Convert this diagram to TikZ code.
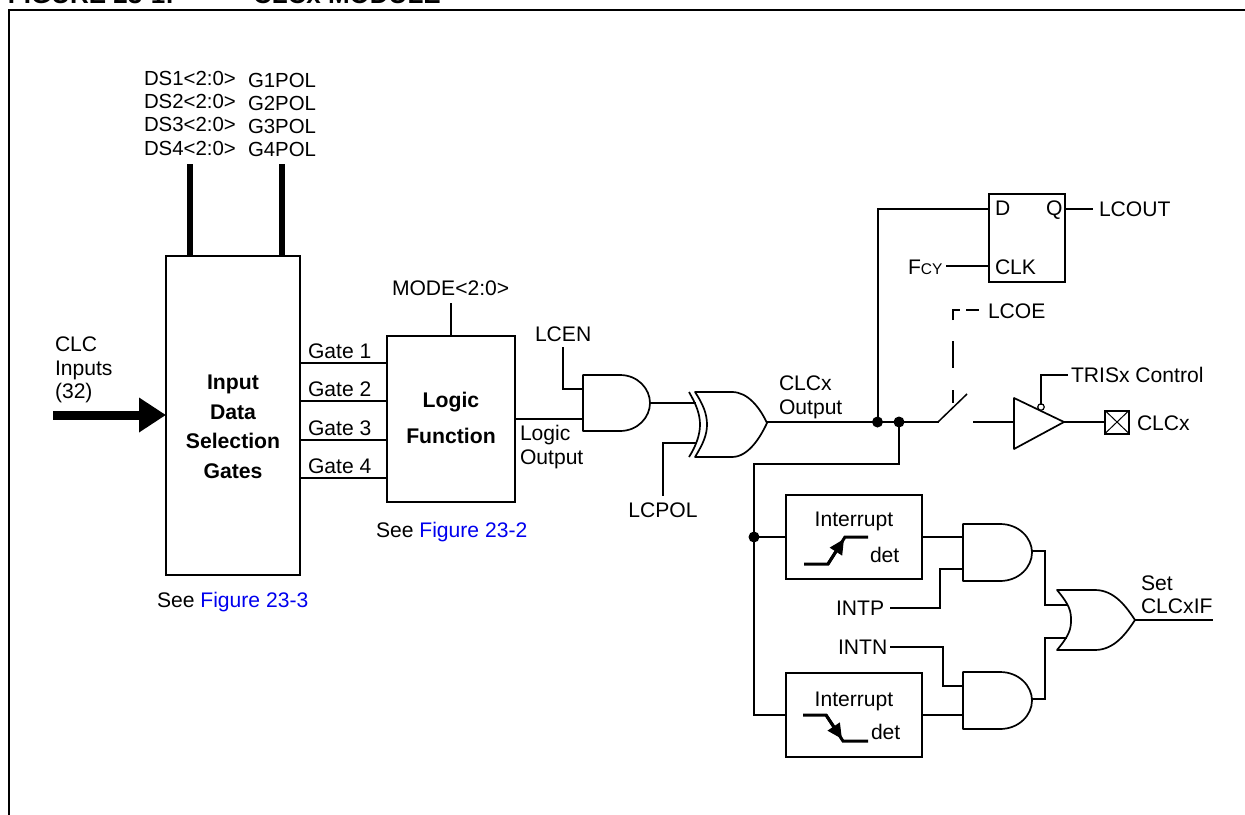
\documentclass[tikz,border=0pt]{standalone}
\usepackage{fontspec}
\setmainfont{Liberation Sans}
\usetikzlibrary{arrows.meta}
\definecolor{linkblue}{RGB}{0,0,238}
\tikzset{
  x=1pt,y=-1pt,
  wire/.style={line width=2pt,line cap=rect,line join=miter},
  gateline/.style={line width=1.7pt,line join=round},
  bus/.style={line width=6pt},
  txt/.style={anchor=base west,inner sep=0pt,outer sep=0pt,font=\fontsize{21.1}{24}\selectfont},
  toptxt/.style={txt,font=\fontsize{20.4}{24}\selectfont},
  ctxt/.style={txt,anchor=base},
  btxt/.style={ctxt,font=\fontsize{21.2}{24}\selectfont\bfseries},
  ttxt/.style={txt,font=\fontsize{26}{30}\selectfont\bfseries},
  boxn/.style={draw,line width=2pt,inner sep=0pt,outer sep=0pt},
  dot/.style={circle,fill=black,inner sep=0pt,outer sep=0pt,minimum size=11pt},
  bubble/.style={circle,draw,fill=white,line width=1.2pt,inner sep=0pt,outer sep=0pt,minimum size=6.5pt},
  edgeline/.style={line width=3pt},
}
% box centre from extents
\newcommand{\bx}[5]{\node[boxn,minimum width=#4-#2,minimum height=#5-#3] (#1) at ({(#2+#4)/2},{(#3+#5)/2}) {};}
% AND gate: name, left x, top y, bottom y, flat x, tip x
\newcommand{\andg}[6]{%
  \draw[gateline] (#2,#3) -- (#5,#3) .. controls ({#5+(#6-#5)*0.6},#3) and (#6,{#3+(#4-#3)*0.25}) .. (#6,{(#3+#4)/2})
   .. controls (#6,{#3+(#4-#3)*0.75}) and ({#5+(#6-#5)*0.6},#4) .. (#5,#4) -- (#2,#4) -- cycle;
  \coordinate (#1o) at (#6,{(#3+#4)/2});}
% OR body: name, left tip x, top, bottom, mid x, flat x, tip x
\newcommand{\org}[7]{%
  \draw[gateline] (#2,#3) -- (#6,#3) .. controls ({#6+(#7-#6)*0.5},#3) and ({#6+(#7-#6)*0.8},{#3+(#4-#3)*0.3}) .. (#7,{(#3+#4)/2})
   .. controls ({#6+(#7-#6)*0.8},{#3+(#4-#3)*0.7}) and ({#6+(#7-#6)*0.5},#4) .. (#6,#4) -- (#2,#4)
   .. controls ({#5-(#5-#2)*0.1},{#3+(#4-#3)*0.75}) and (#5,{#3+(#4-#3)*0.65}) .. (#5,{(#3+#4)/2})
   .. controls (#5,{#3+(#4-#3)*0.35}) and ({#5-(#5-#2)*0.1},{#3+(#4-#3)*0.25}) .. (#2,#3) -- cycle;
  \coordinate (#1o) at (#7,{(#3+#4)/2});}
\begin{document}
\begin{tikzpicture}
\useasboundingbox (0,0) rectangle (1245,814);
\clip (0,0) rectangle (1245,814);
% title and frame
\node[ttxt] (title1) at (8,3) {FIGURE 23-1:};
\node[ttxt] (title2) at (253,3) {CLCx MODULE};
\draw[line width=2pt] (9,815) -- (9,10) -- (1246,10);
% top labels
\node[toptxt] (ds1) at (144,85) {DS1<2:0>};
\node[toptxt] (ds2) at (144,108) {DS2<2:0>};
\node[toptxt] (ds3) at (144,131) {DS3<2:0>};
\node[toptxt] (ds4) at (144,155) {DS4<2:0>};
\node[toptxt] (g1) at (248,87) {G1POL};
\node[toptxt] (g2) at (248,110) {G2POL};
\node[toptxt] (g3) at (248,133) {G3POL};
\node[toptxt] (g4) at (248,156) {G4POL};
% boxes
\bx{sel}{166}{256}{300}{575}
\bx{logic}{387}{336}{515}{502}
\bx{ff}{989}{194}{1065}{282}
\bx{intp}{786}{495}{922}{579}
\bx{intn}{786}{673}{922}{757}
\node[btxt] (t1) at (233,389) {Input};
\node[btxt] (t2) at (233,419) {Data};
\node[btxt] (t3) at (233,448) {Selection};
\node[btxt] (t4) at (233,478) {Gates};
\node[btxt] (t5) at (451,407) {Logic};
\node[btxt] (t6) at (451,443) {Function};
% buses
\coordinate (b1) at (190,164); \coordinate (b2) at (282,164);
\draw[bus] (b1) -- (b1 |- sel.north);
\draw[bus] (b2) -- (b2 |- sel.north);
% input arrow
\node[txt] (c1) at (55,351) {CLC};
\node[txt] (c2) at (55,375) {Inputs};
\node[txt] (c3) at (55,398) {(32)};
\coordinate (in) at (53,415);
\draw[line width=9pt,-{Triangle[length=27pt,width=33pt]}] (in) -- (in -| sel.west);
% gates lines
\foreach \y/\n in {363/1,401/2,440/3,478/4}{
  \coordinate (gs\n) at (sel.east |- 0,\y);
  \draw[wire] (gs\n) -- (gs\n -| logic.west);
  \node[txt] (gl\n) at (308,\y-5) {Gate \n};
}
% mode
\node[txt] (mode) at (392,295) {MODE<2:0>};
\coordinate (modeb) at (451,304);
\draw[wire] (modeb) -- (modeb |- logic.north);
% and + xor
\andg{am}{583}{375}{431}{620}{650}
\node[txt] (lcen) at (535,341) {LCEN};
\coordinate (lcenb) at (563,348);
\draw[wire] (lcenb) |- (583,389);
\draw[wire] (logic.east |- 0,419) -- (583,419);
\node[txt] (lo1) at (520,440) {Logic};
\node[txt] (lo2) at (520,464) {Output};
\draw[gateline] (695,392) -- (732,392) .. controls (748,392) and (760,408) .. (767,423)
  .. controls (760,438) and (748,457) .. (732,457) -- (695,457)
  .. controls (703,444) and (707,435) .. (707,424.5) .. controls (707,414) and (703,404) .. (695,392) -- cycle;
\draw[gateline] (689,392) .. controls (696,404) and (700,414) .. (700,424.5) .. controls (700,435) and (696,446) .. (689,457);
\coordinate (xo) at (767,422);
\draw[wire] (amo) -- (695,403);
\node[ctxt] (lcpol) at (663,517) {LCPOL};
\coordinate (lcpolb) at (663,495);
\draw[wire] (lcpolb) |- (695,443);
\node[txt] (co1) at (779,390) {CLCx};
\node[txt] (co2) at (779,414) {Output};
\node[txt] (see1) at (376,537) {See \textcolor{linkblue}{Figure 23-2}};
\node[txt] (see2) at (157,607) {See \textcolor{linkblue}{Figure 23-3}};
% output path
\node[dot] (d1) at (877.5,422) {};
\node[dot] (d2) at (899,422) {};
\node[dot] (d3) at (754,537) {};
\coordinate (sw1) at (938,422);
\coordinate (sw2) at (967,394);
\coordinate (sw3) at (974,422);
\draw[wire] (xo) -- (sw1);
\draw[line width=1.5pt] (sw1) -- (sw2);
\draw[wire] (d1.center) |- (ff.west |- 0,209);
\node[txt] (dl) at (995,215) {D};
\node[txt] (ql) at (1046,215) {Q};
\node[txt] (clk) at (995,274) {CLK};
\node[txt] (lcout) at (1099,216) {LCOUT};
\draw[wire] (ff.east |- 0,209) -- (1092,209);
\node[txt] (fcy) at (908,274) {F\fontsize{15.5}{18}\selectfont CY};
\coordinate (fcye) at (947,266);
\draw[wire] (fcye) -- (fcye -| ff.west);
% LCOE
\node[txt] (lcoe) at (988,318) {LCOE};
\draw[wire,line cap=butt] (953,320) -- (953,310) -- (960,310);
\draw[wire,line cap=butt] (966,310) -- (979,310);
\draw[wire,line cap=butt] (953,341) -- (953,368);
\draw[wire,line cap=butt] (953,390) -- (953,403);
% buffer
\coordinate (buf) at (1014,422);
\coordinate (buft) at (1064,422);
\draw[wire] (sw3) -- (buf);
\draw[gateline] (1014,398) -- (buft) -- (1014,449) -- cycle;
\node[bubble] (bub) at (1041,407) {};
\node[txt] (tris) at (1071,382) {TRISx Control};
\coordinate (trise) at (1067,375);
\draw[wire] (bub.north) |- (trise);
\node[draw,line width=2pt,minimum width=24pt,minimum height=23pt,inner sep=0pt,outer sep=0pt] (pin) at (1117,422) {};
\draw[line width=1pt] (pin.north west) -- (pin.south east) (pin.north east) -- (pin.south west);
\draw[wire] (buft) -- (pin.west);
\node[txt] (clcx) at (1137,430) {CLCx};
% feedback
\draw[wire] (d2.center) |- (754,464) -- (754,715) -- (intn.west |- 0,715);
\draw[wire] (d3.center) -- (intp.west |- d3);
% interrupt
\node[ctxt] (i1) at (854,526) {Interrupt};
\node[txt] (det1) at (870,562) {det};
\node[ctxt] (i2) at (854,706) {Interrupt};
\node[txt] (det2) at (871,739) {det};
\draw[edgeline] (804,564) -- (828,564) -- (845,537) -- (868,537);
\draw[-{Triangle[length=15pt,width=14pt]},line width=3pt] (828,564) -- (844,539);
\draw[edgeline] (803,715) -- (826,715) -- (843,741) -- (868,741);
\draw[-{Triangle[length=15pt,width=14pt]},line width=3pt] (826,715) -- (842,739);
% lower gates
\andg{a1}{963}{524}{581}{1000}{1032}
\andg{a2}{963}{672}{729}{1000}{1032}
\draw[wire] (intp.east |- 0,537) -- (963,537);
\draw[wire] (intn.east |- 0,715) -- (963,715);
\node[txt] (intpl) at (836,615) {INTP};
\node[txt] (intnl) at (838,654) {INTN};
\coordinate (ip) at (891,608);
\coordinate (in2) at (891,647);
\draw[wire] (ip) -- (940,608) |- (963,569);
\draw[wire] (in2) -- (943,647) |- (963,686);
\org{o}{1057}{590}{650}{1071}{1095}{1135}
\draw[wire] (1032,551) -- (1045,551) |- (1066,605);
\draw[wire] (1032,699) -- (1045,699) |- (1066,638);
\coordinate (setb) at (1212,620);
\draw[wire] (oo) -- (setb);
\node[txt] (set1) at (1141,590) {Set};
\node[txt] (set2) at (1141,613) {CLCxIF};
\end{tikzpicture}
\end{document}
